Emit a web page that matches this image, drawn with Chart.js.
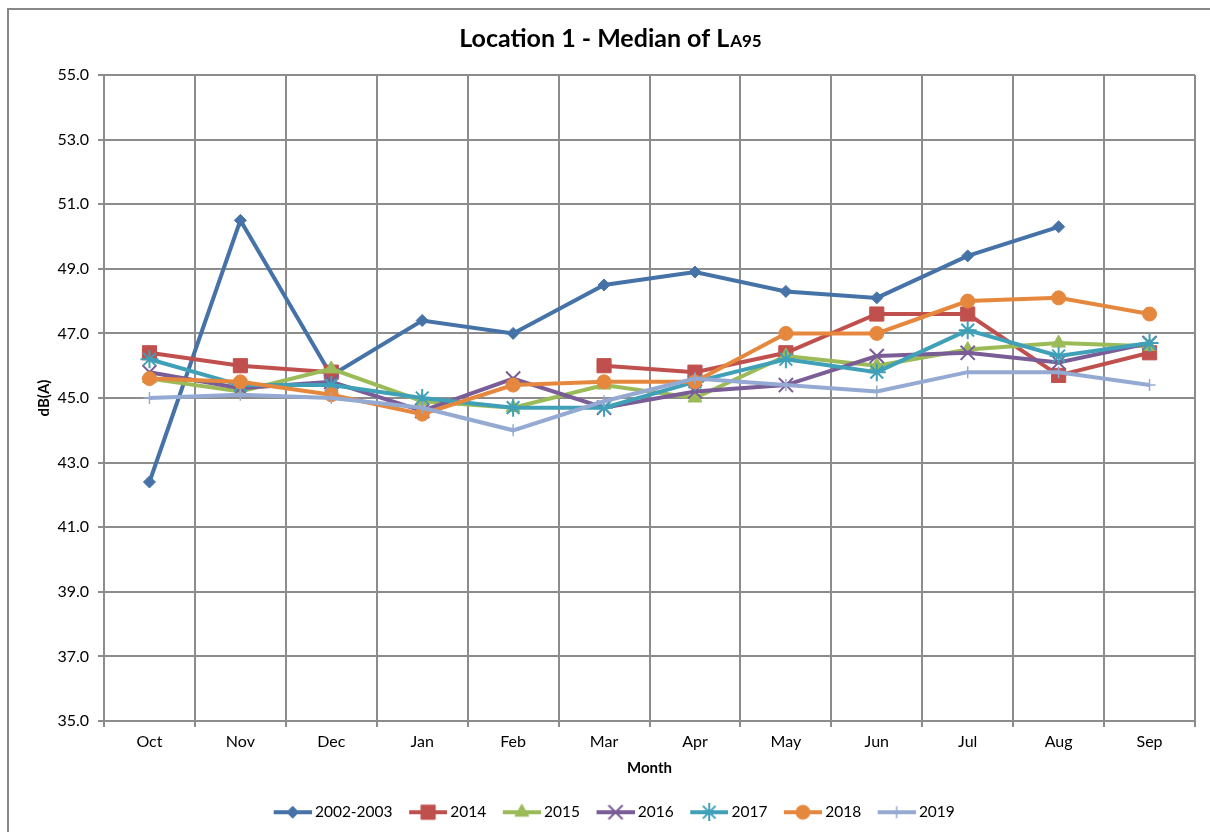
<!DOCTYPE html>
<html>
<head>
<meta charset="utf-8">
<script src="https://cdn.jsdelivr.net/npm/chart.js@4.4.1/dist/chart.umd.min.js"></script>
<style>
  html, body { margin: 0; padding: 0; background: #fff; }
  #wrap { position: relative; width: 1210px; height: 832px; }
</style>
</head>
<body>
<div id="wrap"><canvas id="chart"></canvas></div>
<script>
const months = ["Oct", "Nov", "Dec", "Jan", "Feb", "Mar", "Apr", "May", "Jun", "Jul", "Aug", "Sep"];
const yMin = 35, yMax = 55, yStep = 2;

const s2002 = [42.4, 50.5, 45.7, 47.4, 47.0, 48.5, 48.9, 48.3, 48.1, 49.4, 50.3, null];
const s2014 = [46.4, 46.0, 45.8, null, null, 46.0, 45.8, 46.4, 47.6, 47.6, 45.7, 46.4];
const s2015 = [45.6, 45.2, 45.9, 44.9, 44.7, 45.4, 45.0, 46.3, 46.0, 46.5, 46.7, 46.6];
const s2016 = [45.8, 45.3, 45.5, 44.6, 45.6, 44.7, 45.2, 45.4, 46.3, 46.4, 46.1, 46.7];
const s2017 = [46.2, 45.4, 45.4, 45.0, 44.7, 44.7, 45.5, 46.2, 45.8, 47.1, 46.3, 46.7];
const s2018 = [45.6, 45.5, 45.1, 44.5, 45.4, 45.5, 45.5, 47.0, 47.0, 48.0, 48.1, 47.6];
const s2019 = [45.0, 45.1, 45.0, 44.7, 44.0, 44.9, 45.6, 45.4, 45.2, 45.8, 45.8, 45.4];

const seriesNames = ["2002-2003", "2014", "2015", "2016", "2017", "2018", "2019"];
const seriesData = [s2002, s2014, s2015, s2016, s2017, s2018, s2019];

// look of each series (Excel style)
const styles = [
  { color: "#4572A7", point: "rectRot", r: 6, bw: 1 },
  { color: "#C0504D", point: "rect", r: 10, bw: 1 },
  { color: "#9BBB59", point: "triangle", r: 8, bw: 1 },
  { color: "#7A5C97", point: "crossRot", r: 10, bw: 2 },
  { color: "#3FA0B8", point: "star", r: 9, bw: 2 },
  { color: "#E5883E", point: "circle", r: 7, bw: 1 },
  { color: "#94AAD3", point: "cross", r: 6, bw: 1.5 }
];

const FONT = "Lato, 'Open Sans', sans-serif";
const GRID = "#8c8c8c";

// legend icon: line with the marker in the middle
function legendIcon(st) {
  const c = document.createElement("canvas");
  c.width = 45; c.height = 18;
  const ctx = c.getContext("2d");
  ctx.strokeStyle = st.color;
  ctx.lineWidth = 4;
  ctx.beginPath();
  ctx.moveTo(7, 9);
  ctx.lineTo(45, 9);
  ctx.stroke();
  ctx.fillStyle = st.color;
  ctx.strokeStyle = st.color;
  ctx.lineWidth = st.bw;
  Chart.helpers.drawPoint(ctx, { pointStyle: st.point, radius: st.r, borderWidth: st.bw, rotation: 0 }, 26, 9);
  return c;
}

const datasets = seriesNames.map((name, i) => ({
  label: name,
  data: seriesData[i],
  borderColor: styles[i].color,
  backgroundColor: styles[i].color,
  borderWidth: 4,
  pointStyle: styles[i].point,
  pointRadius: styles[i].r,
  pointHoverRadius: styles[i].r,
  pointBorderWidth: styles[i].bw,
  pointBackgroundColor: styles[i].color,
  pointBorderColor: styles[i].color,
  tension: 0,
  spanGaps: false,
  order: -i
}));

// outer frame + title with small "A95"
const decor = {
  id: "decor",
  beforeDraw(chart) {
    const ctx = chart.ctx;
    ctx.save();
    ctx.fillStyle = "#fff";
    ctx.fillRect(0, 0, chart.width, chart.height);
    ctx.strokeStyle = "#888";
    ctx.lineWidth = 2;
    ctx.beginPath();
    ctx.moveTo(8, chart.height + 2);
    ctx.lineTo(8, 9);
    ctx.lineTo(chart.width + 2, 9);
    ctx.stroke();
    ctx.restore();
  },
  afterDraw(chart) {
    const ctx = chart.ctx;
    ctx.save();
    const main = "Location 1 - Median of L", sub = "A95";
    ctx.font = "bold 25px " + FONT;
    const w1 = ctx.measureText(main).width;
    ctx.font = "bold 17px " + FONT;
    const w2 = ctx.measureText(sub).width;
    let x = 610 - (w1 + w2) / 2;
    ctx.fillStyle = "#000";
    ctx.textBaseline = "alphabetic";
    ctx.font = "bold 25px " + FONT;
    ctx.fillText(main, x, 47);
    ctx.font = "bold 17px " + FONT;
    ctx.fillText(sub, x + w1 + 1, 47);
    ctx.restore();
  }
};

new Chart(document.getElementById("chart"), {
  type: "line",
  data: { labels: months, datasets },
  plugins: [decor],
  options: {
    responsive: true,
    maintainAspectRatio: false,
    animation: false,
    layout: { padding: { left: 31, right: 15, top: 75, bottom: 2 } },
    plugins: {
      title: { display: false },
      tooltip: { enabled: false },
      legend: {
        position: "bottom",
        labels: {
          usePointStyle: true,
          pointStyleWidth: 36,
          padding: 14,
          color: "#000",
          font: { family: FONT, size: 15.5 },
          generateLabels(chart) {
            return chart.data.datasets.map((ds, i) => ({
              text: ds.label,
              pointStyle: legendIcon(styles[i]),
              fillStyle: styles[i].color,
              strokeStyle: styles[i].color,
              lineWidth: 0,
              fontColor: "#000",
              hidden: false,
              datasetIndex: i
            }));
          }
        }
      }
    },
    scales: {
      x: {
        offset: true,
        grid: { offset: true, color: GRID, lineWidth: 2, tickLength: 6, tickColor: GRID },
        border: { color: GRID, width: 2 },
        ticks: { color: "#000", padding: 5, font: { family: FONT, size: 16 } },
        title: { display: true, text: "Month", color: "#000", font: { family: FONT, size: 15, weight: "bold" }, padding: { top: 0, bottom: 13 } },
        afterFit(scale) { scale.height = 69.5; }
      },
      y: {
        min: yMin,
        max: yMax,
        grid: { color: GRID, lineWidth: 2, tickLength: 6, tickColor: GRID },
        border: { color: GRID, width: 2 },
        ticks: {
          stepSize: yStep,
          color: "#000",
          padding: 9,
          font: { family: FONT, size: 16 },
          callback: v => v.toFixed(1)
        },
        title: { display: true, text: "dB(A)", color: "#000", font: { family: FONT, size: 15, weight: "bold" }, padding: { top: 4, bottom: 0 } },
        afterFit(scale) { scale.width = 73; }
      }
    }
  }
});
</script>
</body>
</html>
